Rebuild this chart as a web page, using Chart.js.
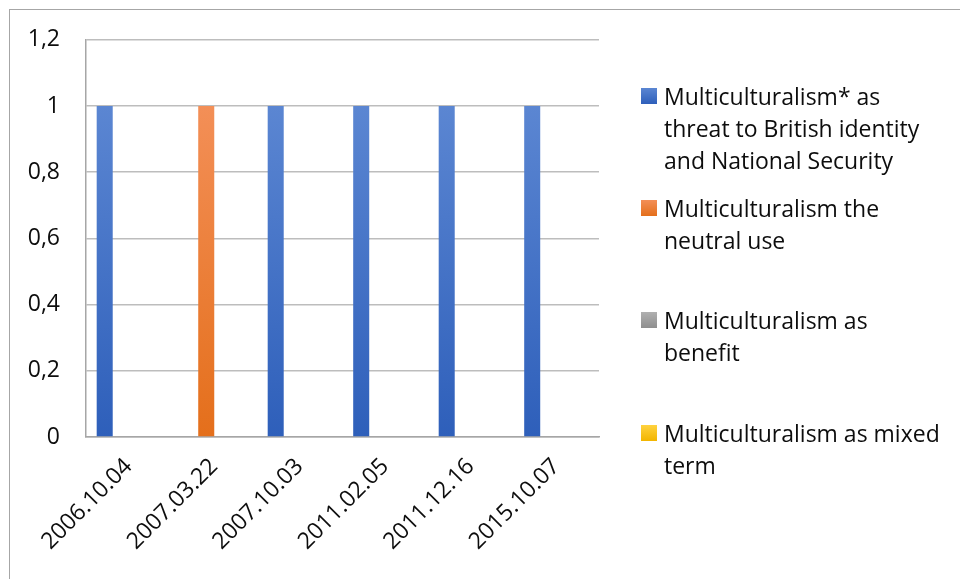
<!DOCTYPE html>
<html>
<head>
<meta charset="utf-8">
<script src="https://cdn.jsdelivr.net/npm/chart.js@4/dist/chart.umd.min.js"></script>
<style>
  html, body { margin: 0; padding: 0; background: #fff; }
  #wrap { position: relative; width: 960px; height: 579px; overflow: hidden; }
  #frame { position: absolute; left: 9px; top: 9px; width: 1000px; height: 700px;
           border-left: 1.5px solid #a6a6a6; border-top: 1.5px solid #a6a6a6; }
  canvas { position: absolute; left: 0; top: 0; }
  #legend { position: absolute; left: 641px; top: 0; font-family: "Open Sans", Lato, sans-serif;
            font-size: 23px; color: #0d0d0d; }
  .item { position: absolute; left: 0; white-space: nowrap; }
  .sw { position: absolute; left: 0; width: 16px; height: 16px; }
  .txt { position: absolute; left: 23px; line-height: 32px; }
</style>
</head>
<body>
<div id="wrap">
  <div id="frame"></div>
  <canvas id="c" width="960" height="579"></canvas>
  <div id="legend"></div>
</div>
<script>
const categories = ['2006.10.04', '2007.03.22', '2007.10.03', '2011.02.05', '2011.12.16', '2015.10.07'];
const seriesNames = [
  'Multiculturalism* as threat to British identity and National Security',
  'Multiculturalism the neutral use',
  'Multiculturalism as benefit',
  'Multiculturalism as mixed term'
];
const legendLines = [
  ['Multiculturalism* as', 'threat to British identity', 'and National Security'],
  ['Multiculturalism the', 'neutral use'],
  ['Multiculturalism as', 'benefit'],
  ['Multiculturalism as mixed', 'term']
];
const threatValues  = [1, 0, 1, 1, 1, 1];
const neutralValues = [0, 1, 0, 0, 0, 0];
const benefitValues = [0, 0, 0, 0, 0, 0];
const mixedValues   = [0, 0, 0, 0, 0, 0];
const yTickValues = [0, 0.2, 0.4, 0.6, 0.8, 1, 1.2];
const yTickLabels = ['0', '0,2', '0,4', '0,6', '0,8', '1', '1,2'];

const gradStops = [
  ['#5b86d2', '#2e5fba'],
  ['#f38f57', '#e46f1b'],
  ['#b0b0b0', '#8e8e8e'],
  ['#ffd23f', '#f2b500']
];

function barGradient(idx) {
  return function(ctx) {
    const chart = ctx.chart;
    const area = chart.chartArea;
    if (!area) return gradStops[idx][1];
    const y = chart.scales.y;
    const g = chart.ctx.createLinearGradient(0, y.getPixelForValue(1), 0, y.getPixelForValue(0));
    g.addColorStop(0, gradStops[idx][0]);
    g.addColorStop(1, gradStops[idx][1]);
    return g;
  };
}

const allValues = [threatValues, neutralValues, benefitValues, mixedValues];
const datasets = allValues.map((vals, i) => ({
  label: seriesNames[i],
  data: vals,
  backgroundColor: barGradient(i),
  borderWidth: 0,
  categoryPercentage: 0.75,
  barPercentage: 1.0
}));

const FONT = { family: '"Open Sans", Lato, sans-serif', size: 23 };

new Chart(document.getElementById('c'), {
  type: 'bar',
  data: { labels: categories, datasets: datasets },
  options: {
    responsive: false,
    animation: false,
    events: [],
    layout: { padding: { top: 39, right: 361, left: 0, bottom: 0 } },
    plugins: { legend: { display: false }, tooltip: { enabled: false } },
    scales: {
      x: {
        grid: { display: false, drawTicks: false },
        border: { display: true, color: '#a6a6a6', width: 1.5 },
        ticks: { color: '#0d0d0d', font: FONT, minRotation: 45, maxRotation: 45, padding: 16, autoSkip: false },
        afterFit: s => { s.height = 142; }
      },
      y: {
        min: 0, max: 1.2,
        afterBuildTicks: s => { s.ticks = yTickValues.map(v => ({ value: v })); },
        grid: { color: '#bdbdbd', lineWidth: 1.5, drawTicks: false },
        border: { display: true, color: '#a6a6a6', width: 1.5 },
        ticks: {
          color: '#0d0d0d', font: FONT, padding: 26,
          callback: (v, i) => yTickLabels[i]
        },
        afterFit: s => { s.width = 86; }
      }
    }
  }
});

// legend
const legendTops = [96, 208, 320, 433];
const leg = document.getElementById('legend');
legendLines.forEach((lines, i) => {
  const it = document.createElement('div');
  it.className = 'item';
  it.style.top = (legendTops[i] - 16) + 'px';
  const sw = document.createElement('div');
  sw.className = 'sw';
  sw.style.top = '8px';
  sw.style.background = 'linear-gradient(' + gradStops[i][0] + ',' + gradStops[i][1] + ')';
  const tx = document.createElement('div');
  tx.className = 'txt';
  tx.innerHTML = lines.join('<br>');
  it.appendChild(sw);
  it.appendChild(tx);
  leg.appendChild(it);
});
</script>
</body>
</html>
